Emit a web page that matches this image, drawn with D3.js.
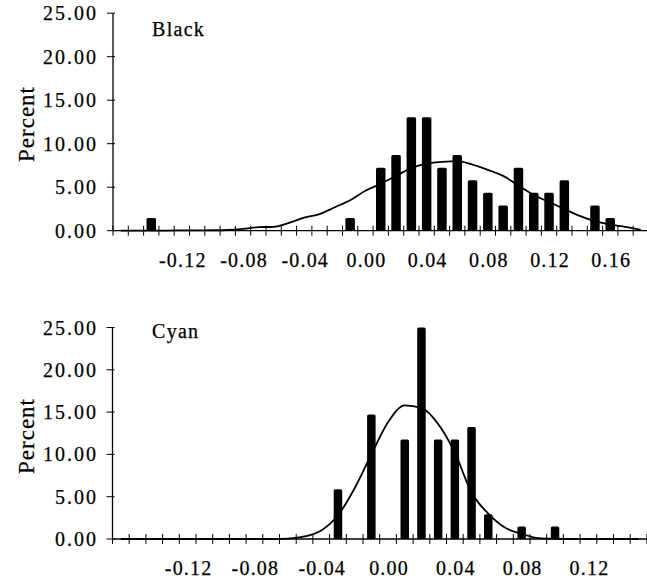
<!DOCTYPE html>
<html>
<head>
<meta charset="utf-8">
<script src="https://cdn.jsdelivr.net/npm/d3@7"></script>
<style>
  html, body { margin: 0; padding: 0; background: #fff; }
  svg { display: block; }
  text { font-family: "Liberation Serif", "Times New Roman", serif; fill: #000; stroke: #000; stroke-width: 0.25px; }
</style>
</head>
<body>
<svg id="chart" width="647" height="582"></svg>
<script>
// ---- Data ----
const blackCategories = ["-0.16","-0.15","-0.14","-0.13","-0.12","-0.11","-0.10","-0.09","-0.08","-0.07","-0.06","-0.05","-0.04","-0.03","-0.02","-0.01","0.00","0.01","0.02","0.03","0.04","0.05","0.06","0.07","0.08","0.09","0.10","0.11","0.12","0.13","0.14","0.15","0.16","0.17","0.18"];
const blackPercent = [0,0,1.45,0,0,0,0,0,0,0,0,0,0,0,0,1.45,0,7.25,8.70,13.04,13.04,7.25,8.70,5.80,4.35,2.90,7.25,4.35,4.35,5.80,0,2.90,1.45,0,0];
const blackFit = [0,0,0,0.02,0.03,0.04,0.05,0.08,0.2,0.4,0.45,0.9,1.5,1.9,2.7,3.5,4.6,5.4,6.3,7.2,7.7,7.9,8.0,7.6,7.0,6.3,5.2,4.1,3.3,2.5,1.7,1.1,0.7,0.45,0.1];
const blackTickLabels = ["-0.12","-0.08","-0.04","0.00","0.04","0.08","0.12","0.16"];

const cyanCategories = ["-0.16","-0.15","-0.14","-0.13","-0.12","-0.11","-0.10","-0.09","-0.08","-0.07","-0.06","-0.05","-0.04","-0.03","-0.02","-0.01","0.00","0.01","0.02","0.03","0.04","0.05","0.06","0.07","0.08","0.09","0.10","0.11","0.12","0.13","0.14","0.15"];
const cyanPercent = [0,0,0,0,0,0,0,0,0,0,0,0,0,5.88,0,14.71,0,11.76,25.00,11.76,11.76,13.24,2.94,0,1.47,0,1.47,0,0,0,0,0];
const cyanFit = [0,0,0,0,0,0,0,0,0,0,0.05,0.3,1.0,2.8,6.0,10.0,13.8,15.8,15.5,13.6,10.2,5.5,3.0,1.35,0.6,0.1,0.03,0,0,0,0,0];
const cyanTickLabels = ["-0.12","-0.08","-0.04","0.00","0.04","0.08","0.12"];

const yTicks = [0, 5, 10, 15, 20, 25];

// ---- Drawing ----
const svg = d3.select("#chart");
svg.append("rect").attr("width", 647).attr("height", 582).attr("fill", "#fff");

function panel(opts) {
  const { cats, pct, fit, labels, title, left, right, top, bottom, barW, titleY, yLabelY } = opts;
  const g = svg.append("g");
  const x = d3.scaleBand().domain(cats).range([left, right]).paddingInner(0).paddingOuter(0);
  const y = d3.scaleLinear().domain([0, 25]).range([bottom, top]);
  const bw = x.bandwidth();

  // bars
  g.selectAll("rect.bar").data(cats.map((c, i) => ({ c, v: pct[i] })).filter(d => d.v > 0))
    .enter().append("rect")
    .attr("class", "bar")
    .attr("x", d => x(d.c) + bw / 2 - barW / 2)
    .attr("y", d => y(d.v))
    .attr("width", barW)
    .attr("height", d => y(0) - y(d.v))
    .attr("rx", 1.5)
    .attr("fill", "#000");

  // x axis line
  g.append("line").attr("x1", left).attr("x2", right).attr("y1", y(0)).attr("y2", y(0))
    .attr("stroke", "#000").attr("stroke-width", 1.3);
  // x ticks at category boundaries (crossing)
  const bounds = cats.map(c => x(c)).concat([x(cats[cats.length - 1]) + bw]);
  g.selectAll("line.xt").data(bounds).enter().append("line")
    .attr("x1", d => d).attr("x2", d => d)
    .attr("y1", y(0) - 5).attr("y2", y(0) + 5)
    .attr("stroke", "#000").attr("stroke-width", 1);
  // x labels
  g.selectAll("text.xl").data(labels).enter().append("text")
    .attr("x", d => x(d) + bw / 2 + 1)
    .attr("y", y(0) + 36)
    .attr("text-anchor", "middle")
    .attr("font-size", 20)
    .attr("letter-spacing", "1.2px")
    .text(d => d);

  // y axis
  g.append("line").attr("x1", left).attr("x2", left).attr("y1", y(25)).attr("y2", y(0))
    .attr("stroke", "#000").attr("stroke-width", 1.3);
  g.selectAll("line.yt").data(yTicks).enter().append("line")
    .attr("x1", left - 6).attr("x2", left + 2)
    .attr("y1", d => y(d)).attr("y2", d => y(d))
    .attr("stroke", "#000").attr("stroke-width", 1);
  g.selectAll("text.yl").data(yTicks).enter().append("text")
    .attr("x", 98)
    .attr("y", d => y(d) + 7)
    .attr("text-anchor", "end")
    .attr("font-size", 20)
    .attr("letter-spacing", "2px")
    .text(d => d3.format(".2f")(d));

  // y title
  g.append("text")
    .attr("transform", `translate(34,${yLabelY}) rotate(-90)`)
    .attr("text-anchor", "middle")
    .attr("font-size", 23)
    .attr("letter-spacing", "1px")
    .text("Percent");

  // fitted curve
  const line = d3.line()
    .x((d, i) => x(cats[i]) + bw / 2)
    .y(d => y(d))
    .curve(d3.curveMonotoneX);
  g.append("path").datum(fit).attr("d", line)
    .attr("fill", "none").attr("stroke", "#000").attr("stroke-width", 1.8);

  // panel title
  g.append("text").attr("x", 152).attr("y", titleY)
    .attr("font-size", 20).attr("letter-spacing", "1.3px").text(title);
}

panel({ cats: blackCategories, pct: blackPercent, fit: blackFit, labels: blackTickLabels,
  title: "Black", left: 113, right: 113 + 35 * 15.3, top: 13.2, bottom: 230.7, barW: 9.5,
  titleY: 36, yLabelY: 124 });

panel({ cats: cyanCategories, pct: cyanPercent, fit: cyanFit, labels: cyanTickLabels,
  title: "Cyan", left: 112.5, right: 112.5 + 32 * 16.7, top: 327.5, bottom: 539, barW: 8.5,
  titleY: 338, yLabelY: 436 });
</script>
</body>
</html>
